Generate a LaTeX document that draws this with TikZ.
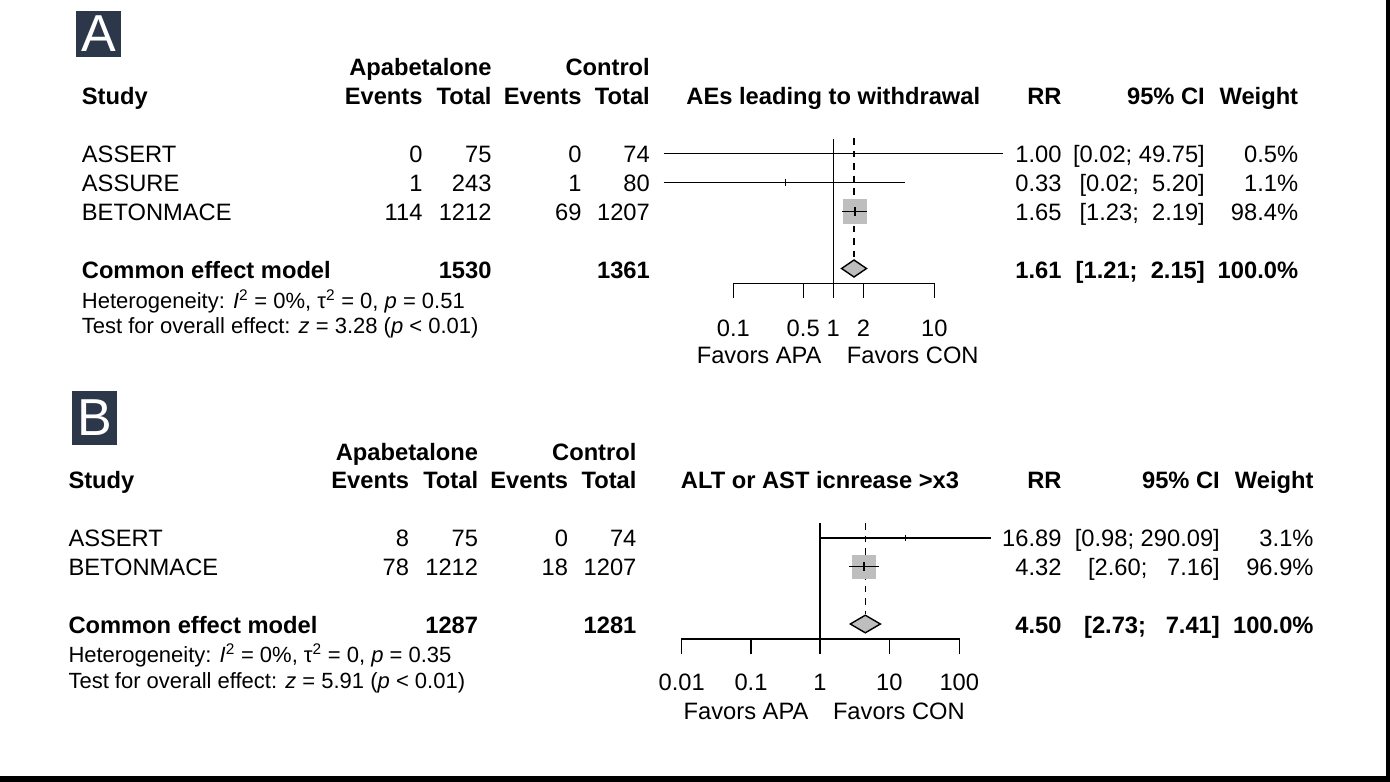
\documentclass[tikz,border=0pt]{standalone}
\usepackage{fontspec}
\setmainfont{Liberation Sans}
\definecolor{panelbg}{HTML}{2C384A}
\definecolor{sqgray}{HTML}{BEBEBE}

\begin{document}
\begin{tikzpicture}[x=1pt,y=-1pt,
    cell/.style={inner sep=0pt, font={\fontsize{23.7}{28}\selectfont}},
    bcell/.style={inner sep=0pt, font={\fontsize{23.7}{28}\selectfont\bfseries}},
    note/.style={inner sep=0pt, anchor=base west, font={\fontsize{22}{26}\selectfont}},
    letter/.style={inner sep=0pt, text=white, font={\fontsize{52}{52}\selectfont}},
    ciline/.style={line width=1.4pt},
    pooled/.style={line width=1.4pt, dash pattern=on 6.5pt off 6pt},
    wsquare/.style={fill=sqgray, draw=none},
    diamondfill/.style={fill=sqgray, draw=black, line width=1.4pt}]
\useasboundingbox (0,0) rectangle (1390,782);
\fill[white] (0,0) rectangle (1390,782);
\fill[black] (1386,0) rectangle (1390,782);
\fill[black] (0,776) rectangle (1390,782);

% panel A
\fill[panelbg] (76,11) rectangle (121,57);
\node[letter] (a-label) at (98.5,34) {A};

\node[bcell, anchor=base east] (a-apa) at (491.7,75.7) {Apabetalone};
\node[bcell, anchor=base east] (a-con) at (650,75.7) {Control};
\node[bcell, anchor=base west] (a-study) at (81.7,104) {Study};
\node[bcell, anchor=base east] (a-ev1) at (422.7,104) {Events};
\node[bcell, anchor=base east] (a-tot1) at (491.7,104) {Total};
\node[bcell, anchor=base east] (a-ev2) at (581.7,104) {Events};
\node[bcell, anchor=base east] (a-tot2) at (650,104) {Total};
\node[bcell, anchor=base] (a-title) at (833.3,104) {AEs leading to withdrawal};
\node[bcell, anchor=base east] (a-rr) at (1061.7,104) {RR};
\node[bcell, anchor=base east] (a-ci) at (1205,104) {95\% CI};
\node[bcell, anchor=base east] (a-wt) at (1298.3,104) {Weight};

\node[cell, anchor=base west] (a-assert) at (81.7,162.3) {ASSERT};
\node[cell, anchor=base east] (a-assert-e1) at (422.7,162.3) {0};
\node[cell, anchor=base east] (a-assert-n1) at (491.7,162.3) {75};
\node[cell, anchor=base east] (a-assert-e2) at (581.7,162.3) {0};
\node[cell, anchor=base east] (a-assert-n2) at (650,162.3) {74};
\node[cell, anchor=base east] (a-assert-rr) at (1061.7,162.3) {1.00};
\node[cell, anchor=base east] (a-assert-ci) at (1205,162.3) {[0.02; 49.75]};
\node[cell, anchor=base east] (a-assert-wt) at (1298.3,162.3) {0.5\%};

\node[cell, anchor=base west] (a-assure) at (81.7,191) {ASSURE};
\node[cell, anchor=base east] (a-assure-e1) at (422.7,191) {1};
\node[cell, anchor=base east] (a-assure-n1) at (491.7,191) {243};
\node[cell, anchor=base east] (a-assure-e2) at (581.7,191) {1};
\node[cell, anchor=base east] (a-assure-n2) at (650,191) {80};
\node[cell, anchor=base east] (a-assure-rr) at (1061.7,191) {0.33};
\node[cell, anchor=base east] (a-assure-ci) at (1205,191) {[0.02;\ \ 5.20]};
\node[cell, anchor=base east] (a-assure-wt) at (1298.3,191) {1.1\%};

\node[cell, anchor=base west] (a-beton) at (81.7,220) {BETONMACE};
\node[cell, anchor=base east] (a-beton-e1) at (422.7,220) {114};
\node[cell, anchor=base east] (a-beton-n1) at (491.7,220) {1212};
\node[cell, anchor=base east] (a-beton-e2) at (581.7,220) {69};
\node[cell, anchor=base east] (a-beton-n2) at (650,220) {1207};
\node[cell, anchor=base east] (a-beton-rr) at (1061.7,220) {1.65};
\node[cell, anchor=base east] (a-beton-ci) at (1205,220) {[1.23;\ \ 2.19]};
\node[cell, anchor=base east] (a-beton-wt) at (1298.3,220) {98.4\%};

\node[bcell, anchor=base west] (a-common) at (81.7,278.3) {Common effect model};
\node[bcell, anchor=base east] (a-common-n1) at (491.7,278.3) {1530};
\node[bcell, anchor=base east] (a-common-n2) at (650,278.3) {1361};
\node[bcell, anchor=base east] (a-common-rr) at (1061.7,278.3) {1.61};
\node[bcell, anchor=base east] (a-common-ci) at (1205,278.3) {[1.21;\ \ 2.15]};
\node[bcell, anchor=base east] (a-common-wt) at (1298.3,278.3) {100.0\%};

\node[note] (a-het) at (81.7,308.3) {Heterogeneity: \textit{I}\textsuperscript{2} = 0\%, τ\textsuperscript{2} = 0, \textit{p} = 0.51};
\node[note] (a-test) at (81.7,333.3) {Test for overall effect: \textit{z} = 3.28 (\textit{p} < 0.01)};

\draw[pooled] (854,138) -- (854,259);
\draw[ciline] (833.3,139) -- (833.3,283.3);
\draw[ciline] (663.6,153.5) -- (1003.2,153.5);
\draw[ciline] (833.3,150.2) -- (833.3,156.8);
\draw[ciline] (663.6,182.5) -- (904.9,182.5);
\draw[ciline] (785.2,179.2) -- (785.2,185.8);
\fill[wsquare] (842.9,199.3) rectangle (867.2,223.7);
\draw[ciline] (842.3,211.5) -- (867.4,211.5);
\draw[ciline] (855,206.8) -- (855,216.2);
\draw[diamondfill] (841.6,268.5) -- (854,260) -- (866.5,268.5) -- (854,277) -- cycle;
\draw[ciline] (733.3,298.3) -- (733.3,283.3) -- (934.3,283.3) -- (934.3,298.3);
\draw[ciline] (803.2,283.3) -- (803.2,298.3);
\draw[ciline] (833.3,283.3) -- (833.3,298.3);
\draw[ciline] (863.4,283.3) -- (863.4,298.3);
\node[cell, anchor=base] (a-t1) at (733.3,336) {0.1};
\node[cell, anchor=base] (a-t2) at (803.2,336) {0.5};
\node[cell, anchor=base] (a-t3) at (833.3,336) {1};
\node[cell, anchor=base] (a-t4) at (863.4,336) {2};
\node[cell, anchor=base] (a-t5) at (934.3,336) {10};
\node[cell, anchor=base east] (a-fav1) at (821.7,363.3) {Favors APA};
\node[cell, anchor=base west] (a-fav2) at (846.7,363.3) {Favors CON};

% panel B
\fill[panelbg] (72,391) rectangle (117,445);
\node[letter] (b-label) at (94.5,418) {B};

\node[bcell, anchor=base east] (b-apa) at (478.3,460) {Apabetalone};
\node[bcell, anchor=base east] (b-con) at (636.6,460) {Control};
\node[bcell, anchor=base west] (b-study) at (68.3,488.3) {Study};
\node[bcell, anchor=base east] (b-ev1) at (409.3,488.3) {Events};
\node[bcell, anchor=base east] (b-tot1) at (478.3,488.3) {Total};
\node[bcell, anchor=base east] (b-ev2) at (568.3,488.3) {Events};
\node[bcell, anchor=base east] (b-tot2) at (636.6,488.3) {Total};
\node[bcell, anchor=base] (b-title) at (820,488.3) {ALT or AST icnrease >x3};
\node[bcell, anchor=base east] (b-rr) at (1061.7,488.3) {RR};
\node[bcell, anchor=base east] (b-ci) at (1220,488.3) {95\% CI};
\node[bcell, anchor=base east] (b-wt) at (1313.7,488.3) {Weight};

\node[cell, anchor=base west] (b-assert) at (68.3,546.7) {ASSERT};
\node[cell, anchor=base east] (b-assert-e1) at (409.3,546.7) {8};
\node[cell, anchor=base east] (b-assert-n1) at (478.3,546.7) {75};
\node[cell, anchor=base east] (b-assert-e2) at (568.3,546.7) {0};
\node[cell, anchor=base east] (b-assert-n2) at (636.6,546.7) {74};
\node[cell, anchor=base east] (b-assert-rr) at (1061.7,546.7) {16.89};
\node[cell, anchor=base east] (b-assert-ci) at (1220,546.7) {[0.98; 290.09]};
\node[cell, anchor=base east] (b-assert-wt) at (1313.7,546.7) {3.1\%};

\node[cell, anchor=base west] (b-beton) at (68.3,575.5) {BETONMACE};
\node[cell, anchor=base east] (b-beton-e1) at (409.3,575.5) {78};
\node[cell, anchor=base east] (b-beton-n1) at (478.3,575.5) {1212};
\node[cell, anchor=base east] (b-beton-e2) at (568.3,575.5) {18};
\node[cell, anchor=base east] (b-beton-n2) at (636.6,575.5) {1207};
\node[cell, anchor=base east] (b-beton-rr) at (1061.7,575.5) {4.32};
\node[cell, anchor=base east] (b-beton-ci) at (1220,575.5) {[2.60;\ \ \ 7.16]};
\node[cell, anchor=base east] (b-beton-wt) at (1313.7,575.5) {96.9\%};

\node[bcell, anchor=base west] (b-common) at (68.3,633.3) {Common effect model};
\node[bcell, anchor=base east] (b-common-n1) at (478.3,633.3) {1287};
\node[bcell, anchor=base east] (b-common-n2) at (636.6,633.3) {1281};
\node[bcell, anchor=base east] (b-common-rr) at (1061.7,633.3) {4.50};
\node[bcell, anchor=base east] (b-common-ci) at (1220,633.3) {[2.73;\ \ \ 7.41]};
\node[bcell, anchor=base east] (b-common-wt) at (1313.7,633.3) {100.0\%};

\node[note] (b-het) at (68.3,662.5) {Heterogeneity: \textit{I}\textsuperscript{2} = 0\%, τ\textsuperscript{2} = 0, \textit{p} = 0.35};
\node[note] (b-test) at (68.3,688.3) {Test for overall effect: \textit{z} = 5.91 (\textit{p} < 0.01)};

\draw[pooled] (865.3,523) -- (865.3,614);
\draw[ciline] (820,523.3) -- (820,639);
\draw[ciline] (819.4,537.8) -- (990.9,537.8);
\draw[ciline] (905.2,534.5) -- (905.2,541.1);
\fill[wsquare] (851.9,554.5) rectangle (876.3,578.9);
\draw[ciline] (848.8,566.7) -- (879.3,566.7);
\draw[ciline] (864.1,562) -- (864.1,571.4);
\draw[diamondfill] (850.3,624) -- (865.3,615.2) -- (880.4,624) -- (865.3,632.8) -- cycle;
\draw[ciline] (681.7,654) -- (681.7,639) -- (959.3,639) -- (959.3,654);
\draw[ciline] (751,639) -- (751,654);
\draw[ciline] (820,639) -- (820,654);
\draw[ciline] (889.4,639) -- (889.4,654);
\node[cell, anchor=base] (b-t1) at (681.7,690.8) {0.01};
\node[cell, anchor=base] (b-t2) at (751,690.8) {0.1};
\node[cell, anchor=base] (b-t3) at (820,690.8) {1};
\node[cell, anchor=base] (b-t4) at (889.4,690.8) {10};
\node[cell, anchor=base] (b-t5) at (959.3,690.8) {100};
\node[cell, anchor=base east] (b-fav1) at (808.6,719.5) {Favors APA};
\node[cell, anchor=base west] (b-fav2) at (832.8,719.5) {Favors CON};
\end{tikzpicture}
\end{document}
